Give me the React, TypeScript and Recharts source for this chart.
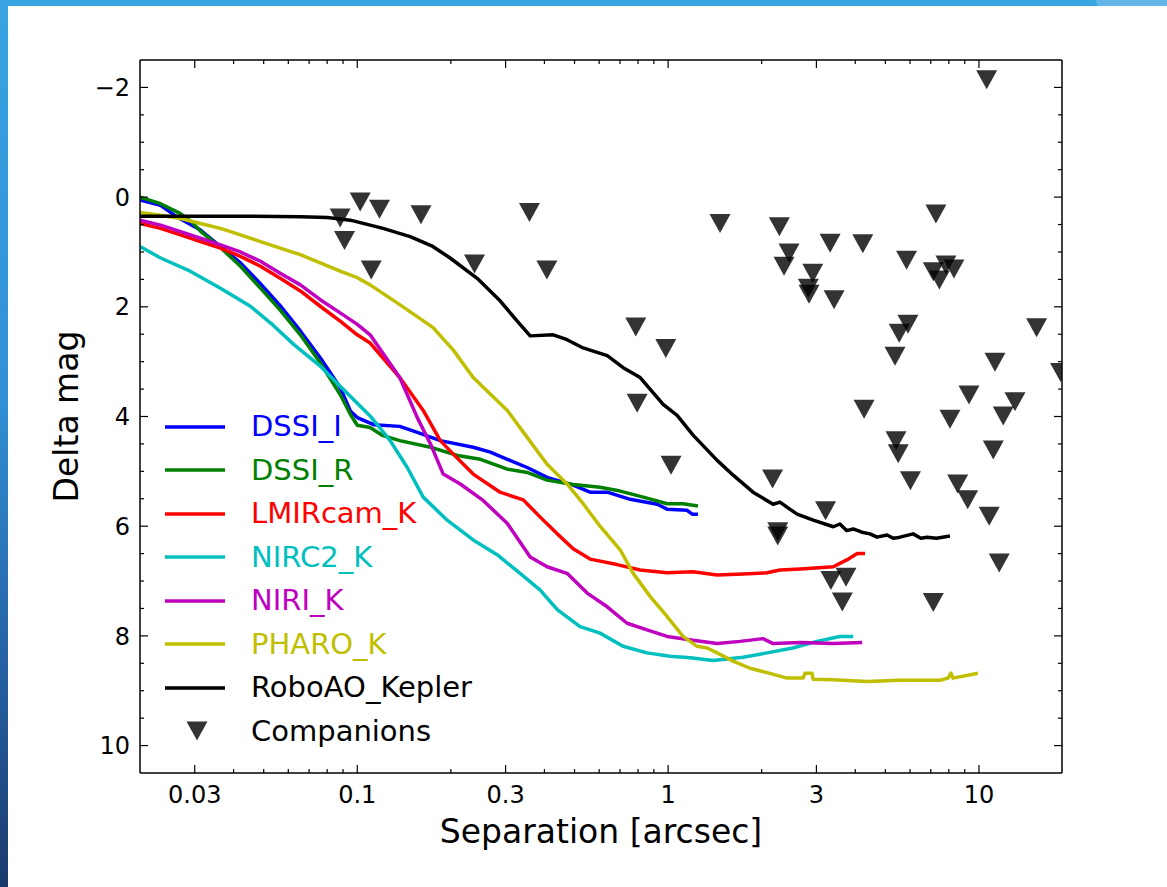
import React from 'react';
import { ComposedChart, Line, Scatter, XAxis, YAxis, Legend } from 'recharts';

const FONT = '"DejaVu Sans", "Liberation Sans", sans-serif';

// ---- axis ticks ----
const xMajorTicks = [0.03, 0.1, 0.3, 1, 3, 10];
const xMajorLabels = ['0.03', '0.1', '0.3', '1', '3', '10'];
const xMinorTicks = [0.04, 0.05, 0.06, 0.07, 0.08, 0.09, 0.2, 0.4, 0.5, 0.6, 0.7, 0.8, 0.9, 2, 4, 5, 6, 7, 8, 9];
const yMajorTicks = [-2, 0, 2, 4, 6, 8, 10];
const yMajorLabels = ['\u22122', '0', '2', '4', '6', '8', '10'];
const yMinorTicks = [-1.5, -1, -0.5, 0.5, 1, 1.5, 2.5, 3, 3.5, 4.5, 5, 5.5, 6.5, 7, 7.5, 8.5, 9, 9.5];
const xDomain = [0.02, 18.5];
const yDomain = [-2.5, 10.5];

// ---- series ----
const seriesNames = ['DSSI_I', 'DSSI_R', 'LMIRcam_K', 'NIRC2_K', 'NIRI_K', 'PHARO_K', 'RoboAO_Kepler'];
const seriesColors = ['#0000ff', '#008000', '#ff0000', '#00bfbf', '#bf00bf', '#bfbf00', '#000000'];

const dssiISep = [0.02, 0.0233, 0.0263, 0.0313, 0.0363, 0.0421, 0.0488, 0.0565, 0.0656, 0.076, 0.0881, 0.095, 0.1, 0.113, 0.137, 0.156, 0.185, 0.236, 0.268, 0.304, 0.352, 0.408, 0.495, 0.561, 0.637, 0.755, 0.923, 0.993, 1.151, 1.195, 1.248];
const dssiIMag = [0.05, 0.15, 0.36, 0.6, 0.9, 1.2, 1.58, 1.98, 2.44, 2.93, 3.47, 3.9, 4.02, 4.15, 4.18, 4.29, 4.44, 4.56, 4.65, 4.78, 4.93, 5.11, 5.25, 5.38, 5.38, 5.51, 5.6, 5.69, 5.71, 5.78, 5.78];

const dssiRSep = [0.02, 0.0233, 0.027, 0.0293, 0.0313, 0.0363, 0.0421, 0.0488, 0.0565, 0.0656, 0.076, 0.0881, 0.095, 0.1, 0.11, 0.121, 0.137, 0.172, 0.21, 0.249, 0.304, 0.352, 0.408, 0.495, 0.604, 0.701, 0.832, 0.993, 1.117, 1.248];
const dssiRMag = [0.0, 0.12, 0.3, 0.45, 0.62, 0.92, 1.26, 1.66, 2.06, 2.51, 3.02, 3.6, 3.96, 4.16, 4.2, 4.35, 4.44, 4.56, 4.71, 4.78, 4.96, 5.02, 5.16, 5.24, 5.29, 5.36, 5.47, 5.59, 5.59, 5.63];

const lmirSep = [0.02, 0.0233, 0.027, 0.0313, 0.0363, 0.0421, 0.0488, 0.0565, 0.0656, 0.076, 0.0881, 0.1, 0.11, 0.137, 0.163, 0.185, 0.204, 0.236, 0.288, 0.342, 0.387, 0.44, 0.495, 0.561, 0.685, 0.813, 0.993, 1.202, 1.438, 1.742, 2.08, 2.29, 2.66, 3.4, 3.77, 4.06, 4.3];
const lmirMag = [0.48, 0.57, 0.69, 0.81, 0.93, 1.08, 1.26, 1.48, 1.71, 1.99, 2.26, 2.51, 2.66, 3.29, 3.89, 4.44, 4.69, 5.05, 5.38, 5.52, 5.83, 6.14, 6.41, 6.6, 6.7, 6.8, 6.85, 6.83, 6.89, 6.87, 6.85, 6.8, 6.78, 6.74, 6.61, 6.5, 6.5];

const nirc2Sep = [0.02, 0.0233, 0.029, 0.0363, 0.0453, 0.0537, 0.0623, 0.076, 0.0881, 0.11, 0.1276, 0.1448, 0.163, 0.1946, 0.236, 0.2818, 0.334, 0.387, 0.44, 0.521, 0.604, 0.716, 0.855, 1.014, 1.178, 1.396, 1.742, 2.08, 2.52, 3.01, 3.57, 3.94];
const nirc2Mag = [0.9, 1.11, 1.35, 1.66, 1.99, 2.34, 2.68, 3.08, 3.45, 3.99, 4.44, 4.93, 5.47, 5.89, 6.25, 6.52, 6.86, 7.16, 7.52, 7.83, 7.95, 8.19, 8.31, 8.37, 8.4, 8.45, 8.39, 8.31, 8.22, 8.1, 8.01, 8.01];

const niriSep = [0.02, 0.0233, 0.027, 0.0313, 0.0363, 0.0421, 0.0488, 0.0565, 0.0656, 0.076, 0.0881, 0.1, 0.11, 0.137, 0.156, 0.172, 0.189, 0.2145, 0.254, 0.304, 0.36, 0.408, 0.473, 0.549, 0.637, 0.738, 0.855, 0.993, 1.202, 1.438, 1.704, 2.02, 2.176, 2.66, 3.4, 4.21];
const niriMag = [0.42, 0.51, 0.63, 0.75, 0.87, 1.0, 1.17, 1.39, 1.6, 1.87, 2.11, 2.32, 2.51, 3.29, 4.02, 4.5, 5.05, 5.23, 5.53, 5.95, 6.56, 6.74, 6.86, 7.22, 7.47, 7.77, 7.89, 8.01, 8.08, 8.14, 8.1, 8.05, 8.14, 8.12, 8.14, 8.12];

const pharoSep = [0.02, 0.0233, 0.027, 0.0313, 0.0363, 0.0421, 0.0488, 0.0565, 0.0656, 0.076, 0.0881, 0.1, 0.11, 0.137, 0.1754, 0.2037, 0.236, 0.304, 0.352, 0.408, 0.473, 0.533, 0.604, 0.701, 0.772, 0.875, 0.993, 1.117, 1.239, 1.335, 1.438, 1.618, 1.835, 2.081, 2.413, 2.718, 2.758, 2.904, 2.926, 3.393, 4.364, 5.572, 7.491, 7.948, 8.128, 8.249, 9.926];
const pharoMag = [0.28, 0.33, 0.39, 0.48, 0.57, 0.69, 0.81, 0.93, 1.05, 1.2, 1.35, 1.47, 1.6, 1.96, 2.38, 2.79, 3.29, 3.89, 4.38, 4.87, 5.23, 5.59, 6.0, 6.43, 6.86, 7.28, 7.65, 8.01, 8.19, 8.22, 8.31, 8.46, 8.59, 8.67, 8.77, 8.77, 8.68, 8.68, 8.79, 8.8, 8.83, 8.81, 8.81, 8.77, 8.68, 8.77, 8.68];

const roboSep = [0.02, 0.0453, 0.0656, 0.0801, 0.095, 0.121, 0.148, 0.175, 0.199, 0.243, 0.288, 0.327, 0.36, 0.427, 0.473, 0.533, 0.637, 0.717, 0.813, 0.964, 1.069, 1.203, 1.438, 1.619, 1.876, 2.176, 2.29, 2.45, 2.6, 2.93, 3.4, 3.57, 3.75, 3.94, 4.2, 4.46, 4.7, 5.06, 5.3, 5.57, 6.14, 6.5, 6.81, 7.3, 8.07];
const roboMag = [0.35, 0.35, 0.36, 0.37, 0.42, 0.57, 0.72, 0.9, 1.11, 1.48, 1.89, 2.26, 2.53, 2.51, 2.6, 2.75, 2.89, 3.11, 3.29, 3.78, 3.98, 4.34, 4.8, 5.07, 5.38, 5.6, 5.56, 5.68, 5.78, 5.89, 6.01, 5.96, 6.08, 6.05, 6.11, 6.14, 6.2, 6.16, 6.22, 6.2, 6.14, 6.22, 6.2, 6.22, 6.18];

// ---- companions ----
const compSep = [0.0881, 0.1022, 0.1179, 0.091, 0.1109, 0.1603, 0.358, 0.2383, 0.4074, 0.787, 0.983, 0.795, 1.022, 1.469, 2.28, 2.449, 2.36, 3.32, 4.23, 2.92, 2.825, 2.84, 3.42, 7.27, 5.85, 7.13, 7.83, 8.31, 7.46, 5.91, 5.54, 5.37, 15.33, 18.31, 11.26, 9.29, 13.06, 11.97, 8.07, 4.27, 5.41, 5.5, 11.12, 2.168, 6.02, 8.54, 9.2, 10.79, 3.21, 2.253, 2.253, 11.62, 3.34, 3.735, 3.635, 7.13, 10.59];
const compMag = [0.38, 0.09, 0.22, 0.79, 1.33, 0.32, 0.28, 1.22, 1.33, 2.37, 2.76, 3.76, 4.89, 0.48, 0.54, 1.02, 1.26, 0.84, 0.85, 1.39, 1.66, 1.77, 1.87, 0.31, 1.15, 1.36, 1.24, 1.31, 1.51, 2.32, 2.48, 2.9, 2.38, 3.2, 3.01, 3.61, 3.73, 3.99, 4.05, 3.87, 4.44, 4.68, 4.61, 5.14, 5.17, 5.23, 5.52, 5.82, 5.72, 6.1, 6.18, 6.67, 6.99, 6.93, 7.38, 7.39, -2.14];

const zip = (xs: number[], ys: number[]) => xs.map((x, i) => ({ x, y: ys[i] }));
const seriesData = [
  zip(dssiISep, dssiIMag),
  zip(dssiRSep, dssiRMag),
  zip(lmirSep, lmirMag),
  zip(nirc2Sep, nirc2Mag),
  zip(niriSep, niriMag),
  zip(pharoSep, pharoMag),
  zip(roboSep, roboMag),
];
const companions = zip(compSep, compMag);

const xTicksAll = [...xMajorTicks, ...xMinorTicks].sort((a, b) => a - b);
const yTicksAll = [...yMajorTicks, ...yMinorTicks].sort((a, b) => a - b);

const GAP = 10;
const MAJ = 8;
const MIN = 4;
const TICK_FS = 24;
const LINE_W = 3.5;

const BottomTick = (p: any) => {
  const { x, y, payload } = p;
  const mi = xMajorTicks.indexOf(payload.value);
  const ay = y - GAP;
  return (
    <g>
      <line x1={x} x2={x} y1={ay} y2={ay - (mi >= 0 ? MAJ : MIN)} stroke="#000" strokeWidth={1.2} />
      {mi >= 0 && (
        <text x={x} y={ay + 30} textAnchor="middle" fontSize={TICK_FS} fontFamily={FONT} fill="#000">
          {xMajorLabels[mi]}
        </text>
      )}
    </g>
  );
};
const TopTick = (p: any) => {
  const { x, y, payload } = p;
  const mi = xMajorTicks.indexOf(payload.value);
  const ay = y + GAP;
  return <line x1={x} x2={x} y1={ay} y2={ay + (mi >= 0 ? MAJ : MIN)} stroke="#000" strokeWidth={1.2} />;
};
const LeftTick = (p: any) => {
  const { x, y, payload } = p;
  const mi = yMajorTicks.indexOf(payload.value);
  const ax = x + GAP;
  return (
    <g>
      <line x1={ax} x2={ax + (mi >= 0 ? MAJ : MIN)} y1={y} y2={y} stroke="#000" strokeWidth={1.2} />
      {mi >= 0 && (
        <text x={ax - 10} y={y} dy="0.36em" textAnchor="end" fontSize={TICK_FS} fontFamily={FONT} fill="#000">
          {yMajorLabels[mi]}
        </text>
      )}
    </g>
  );
};
const RightTick = (p: any) => {
  const { x, y, payload } = p;
  const mi = yMajorTicks.indexOf(payload.value);
  const ax = x - GAP;
  return <line x1={ax} x2={ax - (mi >= 0 ? MAJ : MIN)} y1={y} y2={y} stroke="#000" strokeWidth={1.2} />;
};

const XTitle = (p: any) => {
  const vb = p.viewBox || {};
  return (
    <text x={vb.x + vb.width / 2} y={vb.y + 70} textAnchor="middle" fontSize={33} fontFamily={FONT} fill="#000">
      Separation [arcsec]
    </text>
  );
};
const YTitle = (p: any) => {
  const vb = p.viewBox || {};
  const cx = vb.x + 78;
  const cy = vb.y + vb.height / 2;
  return (
    <text x={cx} y={cy} transform={`rotate(-90 ${cx} ${cy})`} textAnchor="middle" fontSize={33} fontFamily={FONT} fill="#000">
      Delta mag
    </text>
  );
};

const Tri = (p: any) => {
  const { cx, cy } = p;
  if (cx == null || cy == null) return <g />;
  const w = 21;
  const h = 19;
  return (
    <path
      d={`M${cx - w / 2},${cy - h / 2} L${cx + w / 2},${cy - h / 2} L${cx},${cy + h / 2} Z`}
      fill="#000"
      fillOpacity={0.8}
    />
  );
};

const renderLegend = () => (
  <div style={{ fontFamily: FONT, fontSize: 29, whiteSpace: 'nowrap' }}>
    {seriesNames.map((n, i) => (
      <div key={n} style={{ display: 'flex', alignItems: 'center', height: 43.5 }}>
        <svg width={60} height={10} style={{ display: 'block' }}>
          <line x1={0} x2={60} y1={5} y2={5} stroke={seriesColors[i]} strokeWidth={LINE_W} />
        </svg>
        <span style={{ marginLeft: 26, color: seriesColors[i], lineHeight: 1 }}>{n}</span>
      </div>
    ))}
    <div style={{ display: 'flex', alignItems: 'center', height: 43.5 }}>
      <svg width={60} height={22} style={{ display: 'block' }}>
        <path d="M21.5,1.5 L42.5,1.5 L32,20.5 Z" fill="#000" fillOpacity={0.8} />
      </svg>
      <span style={{ marginLeft: 26, color: '#000', lineHeight: 1 }}>Companions</span>
    </div>
  </div>
);

export default function App() {
  return (
    <div style={{ position: 'absolute', left: 0, top: 0, width: 1167, height: 887, background: '#fff', overflow: 'hidden' }}>
      <div style={{ position: 'absolute', left: 0, top: 0, width: 1167, height: 6, background: '#38a4e2' }} />
      <div
        style={{
          position: 'absolute',
          left: 1095,
          top: 0,
          width: 72,
          height: 6,
          background: '#62b6ea',
          clipPath: 'polygon(0 0, 100% 0, 100% 100%, 4% 100%)',
        }}
      />
      <div
        style={{
          position: 'absolute',
          left: 0,
          top: 0,
          width: 8,
          height: 887,
          background: 'linear-gradient(to bottom, #38a4e2 0%, #3190d4 45%, #2561a3 75%, #1b3a6c 100%)',
        }}
      />
      <div style={{ position: 'absolute', left: 0, top: 0 }}>
        <ComposedChart width={1167} height={887} margin={{ top: 59, right: 104, bottom: 0, left: 0 }}>
          <XAxis
            xAxisId="main"
            dataKey="x"
            type="number"
            scale="log"
            domain={xDomain}
            allowDataOverflow
            ticks={xTicksAll}
            interval={0}
            tick={BottomTick}
            tickLine={false}
            tickSize={0}
            tickMargin={GAP}
            height={114}
            axisLine={{ stroke: '#000', strokeWidth: 1.5 }}
            label={<XTitle />}
          />
          <XAxis
            xAxisId="top"
            orientation="top"
            dataKey="x"
            type="number"
            scale="log"
            domain={xDomain}
            allowDataOverflow
            ticks={xTicksAll}
            interval={0}
            tick={TopTick}
            tickLine={false}
            tickSize={0}
            tickMargin={GAP}
            height={1}
            axisLine={{ stroke: '#000', strokeWidth: 1.5 }}
          />
          <YAxis
            yAxisId="main"
            dataKey="y"
            type="number"
            domain={yDomain}
            reversed
            allowDataOverflow
            ticks={yTicksAll}
            interval={0}
            tick={LeftTick}
            tickLine={false}
            tickSize={0}
            tickMargin={GAP}
            width={140}
            axisLine={{ stroke: '#000', strokeWidth: 1.5 }}
            label={<YTitle />}
          />
          <YAxis
            yAxisId="right"
            orientation="right"
            dataKey="y"
            type="number"
            domain={yDomain}
            reversed
            allowDataOverflow
            ticks={yTicksAll}
            interval={0}
            tick={RightTick}
            tickLine={false}
            tickSize={0}
            tickMargin={GAP}
            width={1}
            axisLine={{ stroke: '#000', strokeWidth: 1.5 }}
          />
          {seriesData.map((d, i) => (
            <Line
              key={seriesNames[i]}
              name={seriesNames[i]}
              data={d}
              dataKey="y"
              xAxisId="main"
              yAxisId="main"
              type="linear"
              stroke={seriesColors[i]}
              strokeWidth={LINE_W}
              strokeLinejoin="round"
              dot={false}
              activeDot={false}
              isAnimationActive={false}
            />
          ))}
          <Scatter
            name="Companions"
            data={companions}
            dataKey="y"
            xAxisId="main"
            yAxisId="main"
            shape={Tri}
            isAnimationActive={false}
          />
          <Legend
            layout="vertical"
            align="center"
            verticalAlign="middle"
            content={renderLegend}
            wrapperStyle={{ left: 165, top: 405, width: 'auto', height: 'auto' }}
          />
        </ComposedChart>
      </div>
    </div>
  );
}
